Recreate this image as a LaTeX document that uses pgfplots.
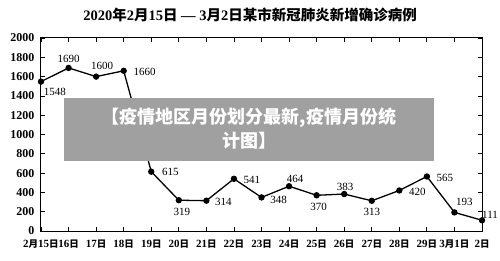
\documentclass[border=0pt]{standalone}
\usepackage{fontspec}
\setmainfont{Liberation Serif}
\newfontfamily\cjk{Noto Sans CJK SC}
\usepackage{pgfplots}
\pgfplotsset{compat=1.18}
\usepackage{pgfplotstable}
\definecolor{ov}{RGB}{160,160,160}
\pgfplotstableread{
x y dx dy
0 1548 14 -10
1 1690 0 9
2 1600 6 11
3 1660 21 -1
4 615 19 0
5 319 3 -12
6 314 17 -1
7 541 18 -1
8 348 17 -2
9 464 6 7
10 370 2 -12
11 383 1 7
12 313 0 -11
13 420 18 -1
14 565 18 -1
15 193 10 10
16 111 8 5
}\datatable
\newcommand{\Y}{{\cjk\fontsize{9.5}{10}\selectfont 月}}
\newcommand{\R}{{\cjk\fontsize{9.5}{10}\selectfont 日}}
\newcommand{\TY}{{\cjk 月}}
\newcommand{\TR}{{\cjk 日}}
\begin{document}
\begin{tikzpicture}[x=1pt,y=1pt]
\begin{axis}[
  at={(41pt,29pt)}, anchor=south west,
  scale only axis, width=441pt, height=193pt,
  xmin=0, xmax=16, ymin=0, ymax=2000,
  ytick={0,200,...,2000},
  yticklabels={0,200,400,600,800,1000,1200,1400,1600,1800,2000},
  xtick={0,...,16},
  xticklabels={2\Y15\R,16\R,17\R,18\R,19\R,20\R,21\R,22\R,23\R,24\R,25\R,26\R,27\R,28\R,29\R,3\Y1\R,2\R},
  tick align=inside,
  major tick length=4pt,
  axis line style={line width=1pt},
  tick style={line width=0.8pt, black},
  yticklabel style={font=\bfseries\fontsize{12}{12}\selectfont, xshift=-3pt},
  xticklabel style={font=\bfseries\fontsize{11}{11}\selectfont, yshift=-5pt, inner xsep=0pt},
  clip=false,
]
\addplot[black, line width=1.3pt, mark=*, mark size=2.5pt, mark options={fill=black},
  point meta=explicit symbolic,
  visualization depends on={\thisrow{dx}\as\dx},
  visualization depends on={\thisrow{dy}\as\dy},
  nodes near coords,
  nodes near coords style={anchor=center, xshift=\dx pt, yshift=\dy pt, font=\fontsize{11}{11}\selectfont, text=black},
] table[x=x, y=y, meta=y] {\datatable};
\end{axis}
\fill[ov] (64,99) rectangle (434,162);
\node[text=white, align=center, font=\cjk\bfseries\fontsize{18}{24}\selectfont] at (249,131) {【疫情地区月份划分最新,疫情月份统\\计图】};
\node[font=\bfseries\fontsize{14.5}{14.5}\selectfont] at (250,245) {2020{\cjk 年}2\TY15\TR{} — 3\TY2\TR{\cjk 某市新冠肺炎新增确诊病例}};
\pgfresetboundingbox
\path[use as bounding box] (0,0) rectangle (500,260);
\end{tikzpicture}
\end{document}
